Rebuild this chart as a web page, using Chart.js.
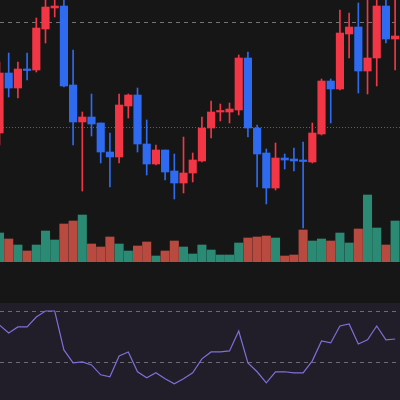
<!DOCTYPE html>
<html>
<head>
<meta charset="utf-8">
<script src="https://cdn.jsdelivr.net/npm/chart.js@4"></script>
<style>
  body { margin:0; background:#161616; }
  #wrap { position:relative; width:400px; height:400px; background:#161616; overflow:hidden; }
  canvas { position:absolute; left:0; }
  #rsiBox { position:absolute; left:0; top:303px; width:400px; height:97px; background:#211e2a; }
</style>
</head>
<body>
<div id="wrap">
  <div id="rsiBox"></div>
  <div style="position:absolute;left:0;top:190px;width:400px;height:72px"><canvas id="vol"></canvas></div>
  <div style="position:absolute;left:0;top:0;width:400px;height:262px"><canvas id="price"></canvas></div>
  <div style="position:absolute;left:0;top:303px;width:400px;height:97px"><canvas id="rsi"></canvas></div>
</div>
<script>
// OHLC
var opens  = [67,127,112,131,130,171,192,194,115,78,83,77,48,43,94,105,56,36,50,29,17,27,39,72,88,88,90,142,72,47,12,42,41,40,38,66,119,111,166,173,129,142,194,161];
var highs  = [138,147,138,147,182,200,200,200,150,88,106,77,67,106,106,112,80,55,50,46,63,47,83,99,96,97,145,148,75,51,57,46,52,58,77,121,121,190,187,197,200,200,200,200];
var lows   = [55,103,102,120,128,157,183,113,55,9,64,37,13,37,82,48,25,35,20,1,7,18,38,62,79,77,85,63,13,-4,10,31,29,-28,37,65,77,110,142,107,106,114,157,130];
var closes = [127,112,131,130,172,193,194,114,78,83,76,48,43,95,105,56,36,50,28,17,27,40,72,88,89,91,142,72,46,12,42,40,39,39,67,119,111,167,173,129,142,194,161,164];
var volumes = [29,23,17,11,17,31,22,38,41,47,18,15,25,18,11,16,20,6,11,21,15,8,17,12,7,7,19,24,25,26,24,6,7,32,21,23,21,29,19,33,67,34,17,41];
var volUp = "grgrgggrrgrrrggrrgrrgggggggrrrgrrrggrggrggrg";
var rsiValues = [59.0,52.7,57.5,57.5,65.3,70,70,39.4,29.2,30,27.6,19.8,18.2,34.7,37.8,22.2,17.5,21.4,16.7,12.7,16.7,21.4,32.4,37.8,37.8,38.6,54.3,29.2,22.2,13.5,22.2,22.2,21.4,21.4,30.8,46.5,44.9,58.2,59.8,44.1,47.3,58.2,47.3,48.0];
var resistance = 178, support = 73;

var RED = '#f23645', BLUE = '#2e6bf0', VGREEN = '#2a8a74', VRED = '#b84a40';
var xScale = { type:'linear', min:0.054, max:43.53, display:false, offset:false };
var base = { responsive:true, maintainAspectRatio:false, animation:false,
  layout:{ padding:0 }, plugins:{ legend:{display:false}, tooltip:{enabled:false} } };

var candleColors = opens.map(function(o,i){ return closes[i] >= o ? RED : BLUE; });

var hlines = {
  id:'hlines',
  beforeDatasetsDraw: function(chart){
    var c = chart.ctx, y = chart.scales.y;
    c.save(); c.lineWidth = 1;
    c.strokeStyle = 'rgba(180,180,180,0.6)'; c.setLineDash([4,4]);
    var p = Math.round(y.getPixelForValue(resistance)) + 0.5;
    c.beginPath(); c.moveTo(0,p); c.lineTo(400,p); c.stroke();
    c.strokeStyle = 'rgba(225,60,60,0.85)'; c.setLineDash([1,2]);
    p = Math.round(y.getPixelForValue(support)) + 0.5;
    c.beginPath(); c.moveTo(0,p); c.lineTo(400,p); c.stroke();
    c.restore();
  }
};

new Chart(document.getElementById('price'), {
  type:'bar',
  data:{ datasets:[
    { data: opens.map(function(o,i){ return {x:i, y:[lows[i], highs[i]]}; }),
      backgroundColor: candleColors, barThickness:1, grouped:false, order:2 },
    { data: opens.map(function(o,i){ var c = closes[i]; if (Math.abs(c-o) < 1.5) c = o + (c>=o?1.5:-1.5); return {x:i, y:[o, c]}; }),
      backgroundColor: candleColors, barThickness:7.5, grouped:false, order:1 }
  ]},
  options: Object.assign({}, base, { scales:{ x:xScale, y:{ min:-62, max:200, display:false } } }),
  plugins:[hlines]
});

new Chart(document.getElementById('vol'), {
  type:'bar',
  data:{ datasets:[{ data: volumes.map(function(v,i){ return {x:i, y:v}; }),
    backgroundColor: volumes.map(function(v,i){ return volUp[i]=='g' ? VGREEN : VRED; }),
    barThickness:8.4 }]},
  options: Object.assign({}, base, { scales:{ x:xScale, y:{ min:0, max:72, display:false } } })
});

var rsiLines = {
  id:'rsiLines',
  beforeDatasetsDraw: function(chart){
    var c = chart.ctx, y = chart.scales.y;
    c.save(); c.lineWidth = 1; c.strokeStyle = 'rgba(170,170,180,0.55)'; c.setLineDash([4,4]);
    [70,30].forEach(function(v){
      var p = Math.round(y.getPixelForValue(v)) + 0.5;
      c.beginPath(); c.moveTo(0,p); c.lineTo(400,p); c.stroke();
    });
    c.restore();
  }
};

new Chart(document.getElementById('rsi'), {
  type:'line',
  data:{ datasets:[{ data: rsiValues.map(function(v,i){ return {x:i, y:v}; }),
    borderColor:'#7d70d8', borderWidth:1.2, pointRadius:0, tension:0 }]},
  options: Object.assign({}, base, { scales:{ x:xScale, y:{ min:0, max:76.3, display:false } } }),
  plugins:[rsiLines]
});
</script>
</body>
</html>
